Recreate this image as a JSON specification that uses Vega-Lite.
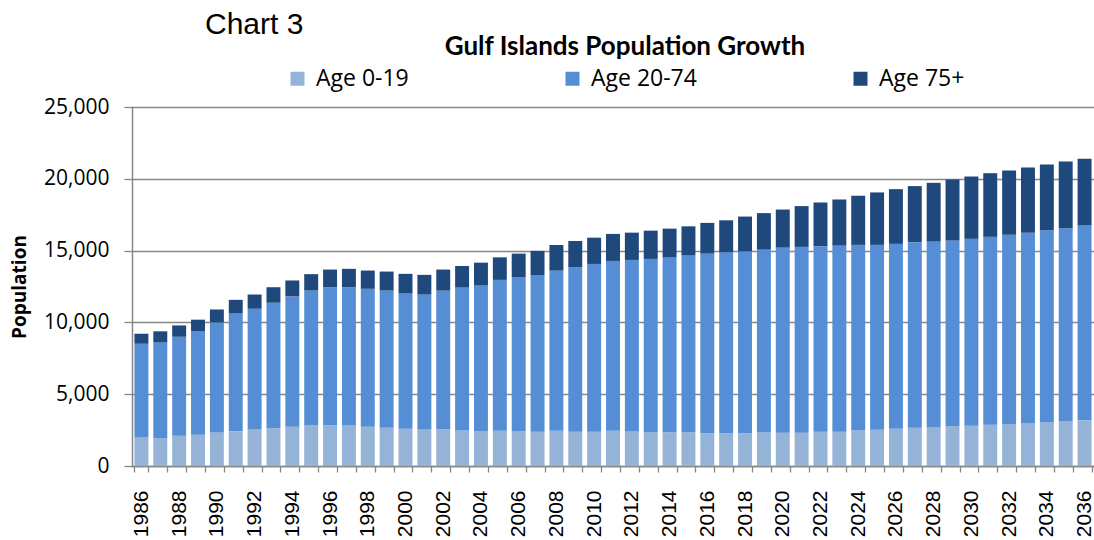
{
  "$schema": "https://vega.github.io/schema/vega-lite/v6.json",
  "width": 962,
  "height": 359,
  "autosize": {"type": "none"},
  "padding": {"left": 132, "top": 107, "right": 0, "bottom": 74},
  "background": "#ffffff",
  "title": {
    "text": "Chart 3",
    "anchor": "start",
    "frame": "group",
    "dx": 73,
    "dy": 8,
    "offset": 2,
    "font": "Liberation Sans",
    "fontSize": 30,
    "fontWeight": "normal",
    "color": "#000000"
  },
  "data": {
    "values": [
      {"year": 1986, "age": "Age 0-19", "population": 1990}, {"year": 1986, "age": "Age 20-74", "population": 6530}, {"year": 1986, "age": "Age 75+", "population": 690},
      {"year": 1987, "age": "Age 0-19", "population": 1940}, {"year": 1987, "age": "Age 20-74", "population": 6670}, {"year": 1987, "age": "Age 75+", "population": 770},
      {"year": 1988, "age": "Age 0-19", "population": 2110}, {"year": 1988, "age": "Age 20-74", "population": 6890}, {"year": 1988, "age": "Age 75+", "population": 790},
      {"year": 1989, "age": "Age 0-19", "population": 2180}, {"year": 1989, "age": "Age 20-74", "population": 7220}, {"year": 1989, "age": "Age 75+", "population": 790},
      {"year": 1990, "age": "Age 0-19", "population": 2340}, {"year": 1990, "age": "Age 20-74", "population": 7660}, {"year": 1990, "age": "Age 75+", "population": 900},
      {"year": 1991, "age": "Age 0-19", "population": 2430}, {"year": 1991, "age": "Age 20-74", "population": 8220}, {"year": 1991, "age": "Age 75+", "population": 920},
      {"year": 1992, "age": "Age 0-19", "population": 2550}, {"year": 1992, "age": "Age 20-74", "population": 8400}, {"year": 1992, "age": "Age 75+", "population": 990},
      {"year": 1993, "age": "Age 0-19", "population": 2640}, {"year": 1993, "age": "Age 20-74", "population": 8730}, {"year": 1993, "age": "Age 75+", "population": 1080},
      {"year": 1994, "age": "Age 0-19", "population": 2730}, {"year": 1994, "age": "Age 20-74", "population": 9080}, {"year": 1994, "age": "Age 75+", "population": 1110},
      {"year": 1995, "age": "Age 0-19", "population": 2820}, {"year": 1995, "age": "Age 20-74", "population": 9400}, {"year": 1995, "age": "Age 75+", "population": 1140},
      {"year": 1996, "age": "Age 0-19", "population": 2850}, {"year": 1996, "age": "Age 20-74", "population": 9600}, {"year": 1996, "age": "Age 75+", "population": 1230},
      {"year": 1997, "age": "Age 0-19", "population": 2820}, {"year": 1997, "age": "Age 20-74", "population": 9630}, {"year": 1997, "age": "Age 75+", "population": 1280},
      {"year": 1998, "age": "Age 0-19", "population": 2730}, {"year": 1998, "age": "Age 20-74", "population": 9610}, {"year": 1998, "age": "Age 75+", "population": 1270},
      {"year": 1999, "age": "Age 0-19", "population": 2660}, {"year": 1999, "age": "Age 20-74", "population": 9560}, {"year": 1999, "age": "Age 75+", "population": 1320},
      {"year": 2000, "age": "Age 0-19", "population": 2590}, {"year": 2000, "age": "Age 20-74", "population": 9450}, {"year": 2000, "age": "Age 75+", "population": 1340},
      {"year": 2001, "age": "Age 0-19", "population": 2550}, {"year": 2001, "age": "Age 20-74", "population": 9390}, {"year": 2001, "age": "Age 75+", "population": 1370},
      {"year": 2002, "age": "Age 0-19", "population": 2570}, {"year": 2002, "age": "Age 20-74", "population": 9640}, {"year": 2002, "age": "Age 75+", "population": 1470},
      {"year": 2003, "age": "Age 0-19", "population": 2480}, {"year": 2003, "age": "Age 20-74", "population": 9940}, {"year": 2003, "age": "Age 75+", "population": 1510},
      {"year": 2004, "age": "Age 0-19", "population": 2440}, {"year": 2004, "age": "Age 20-74", "population": 10120}, {"year": 2004, "age": "Age 75+", "population": 1600},
      {"year": 2005, "age": "Age 0-19", "population": 2460}, {"year": 2005, "age": "Age 20-74", "population": 10500}, {"year": 2005, "age": "Age 75+", "population": 1570},
      {"year": 2006, "age": "Age 0-19", "population": 2440}, {"year": 2006, "age": "Age 20-74", "population": 10700}, {"year": 2006, "age": "Age 75+", "population": 1650},
      {"year": 2007, "age": "Age 0-19", "population": 2390}, {"year": 2007, "age": "Age 20-74", "population": 10890}, {"year": 2007, "age": "Age 75+", "population": 1700},
      {"year": 2008, "age": "Age 0-19", "population": 2460}, {"year": 2008, "age": "Age 20-74", "population": 11150}, {"year": 2008, "age": "Age 75+", "population": 1780},
      {"year": 2009, "age": "Age 0-19", "population": 2390}, {"year": 2009, "age": "Age 20-74", "population": 11450}, {"year": 2009, "age": "Age 75+", "population": 1830},
      {"year": 2010, "age": "Age 0-19", "population": 2390}, {"year": 2010, "age": "Age 20-74", "population": 11680}, {"year": 2010, "age": "Age 75+", "population": 1830},
      {"year": 2011, "age": "Age 0-19", "population": 2460}, {"year": 2011, "age": "Age 20-74", "population": 11820}, {"year": 2011, "age": "Age 75+", "population": 1880},
      {"year": 2012, "age": "Age 0-19", "population": 2410}, {"year": 2012, "age": "Age 20-74", "population": 11940}, {"year": 2012, "age": "Age 75+", "population": 1900},
      {"year": 2013, "age": "Age 0-19", "population": 2370}, {"year": 2013, "age": "Age 20-74", "population": 12050}, {"year": 2013, "age": "Age 75+", "population": 1970},
      {"year": 2014, "age": "Age 0-19", "population": 2350}, {"year": 2014, "age": "Age 20-74", "population": 12160}, {"year": 2014, "age": "Age 75+", "population": 2020},
      {"year": 2015, "age": "Age 0-19", "population": 2350}, {"year": 2015, "age": "Age 20-74", "population": 12300}, {"year": 2015, "age": "Age 75+", "population": 2040},
      {"year": 2016, "age": "Age 0-19", "population": 2280}, {"year": 2016, "age": "Age 20-74", "population": 12510}, {"year": 2016, "age": "Age 75+", "population": 2140},
      {"year": 2017, "age": "Age 0-19", "population": 2280}, {"year": 2017, "age": "Age 20-74", "population": 12600}, {"year": 2017, "age": "Age 75+", "population": 2230},
      {"year": 2018, "age": "Age 0-19", "population": 2280}, {"year": 2018, "age": "Age 20-74", "population": 12670}, {"year": 2018, "age": "Age 75+", "population": 2420},
      {"year": 2019, "age": "Age 0-19", "population": 2330}, {"year": 2019, "age": "Age 20-74", "population": 12740}, {"year": 2019, "age": "Age 75+", "population": 2540},
      {"year": 2020, "age": "Age 0-19", "population": 2320}, {"year": 2020, "age": "Age 20-74", "population": 12890}, {"year": 2020, "age": "Age 75+", "population": 2650},
      {"year": 2021, "age": "Age 0-19", "population": 2320}, {"year": 2021, "age": "Age 20-74", "population": 12940}, {"year": 2021, "age": "Age 75+", "population": 2840},
      {"year": 2022, "age": "Age 0-19", "population": 2390}, {"year": 2022, "age": "Age 20-74", "population": 12920}, {"year": 2022, "age": "Age 75+", "population": 3040},
      {"year": 2023, "age": "Age 0-19", "population": 2390}, {"year": 2023, "age": "Age 20-74", "population": 12960}, {"year": 2023, "age": "Age 75+", "population": 3210},
      {"year": 2024, "age": "Age 0-19", "population": 2490}, {"year": 2024, "age": "Age 20-74", "population": 12910}, {"year": 2024, "age": "Age 75+", "population": 3420},
      {"year": 2025, "age": "Age 0-19", "population": 2530}, {"year": 2025, "age": "Age 20-74", "population": 12870}, {"year": 2025, "age": "Age 75+", "population": 3650},
      {"year": 2026, "age": "Age 0-19", "population": 2600}, {"year": 2026, "age": "Age 20-74", "population": 12870}, {"year": 2026, "age": "Age 75+", "population": 3810},
      {"year": 2027, "age": "Age 0-19", "population": 2670}, {"year": 2027, "age": "Age 20-74", "population": 12920}, {"year": 2027, "age": "Age 75+", "population": 3900},
      {"year": 2028, "age": "Age 0-19", "population": 2720}, {"year": 2028, "age": "Age 20-74", "population": 12910}, {"year": 2028, "age": "Age 75+", "population": 4090},
      {"year": 2029, "age": "Age 0-19", "population": 2790}, {"year": 2029, "age": "Age 20-74", "population": 12910}, {"year": 2029, "age": "Age 75+", "population": 4250},
      {"year": 2030, "age": "Age 0-19", "population": 2810}, {"year": 2030, "age": "Age 20-74", "population": 13010}, {"year": 2030, "age": "Age 75+", "population": 4340},
      {"year": 2031, "age": "Age 0-19", "population": 2880}, {"year": 2031, "age": "Age 20-74", "population": 13080}, {"year": 2031, "age": "Age 75+", "population": 4430},
      {"year": 2032, "age": "Age 0-19", "population": 2930}, {"year": 2032, "age": "Age 20-74", "population": 13170}, {"year": 2032, "age": "Age 75+", "population": 4480},
      {"year": 2033, "age": "Age 0-19", "population": 3000}, {"year": 2033, "age": "Age 20-74", "population": 13240}, {"year": 2033, "age": "Age 75+", "population": 4550},
      {"year": 2034, "age": "Age 0-19", "population": 3070}, {"year": 2034, "age": "Age 20-74", "population": 13350}, {"year": 2034, "age": "Age 75+", "population": 4580},
      {"year": 2035, "age": "Age 0-19", "population": 3140}, {"year": 2035, "age": "Age 20-74", "population": 13420}, {"year": 2035, "age": "Age 75+", "population": 4650},
      {"year": 2036, "age": "Age 0-19", "population": 3180}, {"year": 2036, "age": "Age 20-74", "population": 13570}, {"year": 2036, "age": "Age 75+", "population": 4640}
    ]
  },
  "mark": {"type": "bar"},
  "encoding": {
    "x": {
      "field": "year",
      "type": "ordinal",
      "scale": {"paddingInner": 0.26, "paddingOuter": 0.13},
      "axis": {
        "title": null,
        "labelAngle": 270,
        "labelExpr": "datum.value % 2 == 0 ? datum.label : ''",
        "labelFont": "Liberation Sans",
        "labelFontSize": 21,
        "labelColor": "#000000",
        "labelPadding": 18,
        "tickSize": 6,
        "tickColor": "#868686",
        "tickWidth": 1.3,
        "tickBand": "extent",
        "domainColor": "#868686",
        "domainWidth": 1.5,
        "labelOverlap": false,
        "grid": false
      }
    },
    "y": {
      "field": "population",
      "type": "quantitative",
      "stack": "zero",
      "scale": {"domain": [0, 25000], "nice": false},
      "axis": {
        "title": "Population",
        "titleFont": "Open Sans",
        "titleFontSize": 19,
        "titleFontWeight": "bold",
        "titleColor": "#000000",
        "titlePadding": 14,
        "values": [0, 5000, 10000, 15000, 20000, 25000],
        "format": ",.0f",
        "labelFont": "Open Sans",
        "labelFontSize": 21,
        "labelColor": "#000000",
        "labelPadding": 15,
        "tickSize": 8,
        "tickColor": "#868686",
        "tickWidth": 1.3,
        "domainColor": "#868686",
        "domainWidth": 1.5,
        "grid": true,
        "gridColor": "#868686",
        "gridWidth": 1.5
      }
    },
    "order": {"field": "age", "type": "nominal", "sort": "ascending"},
    "color": {
      "field": "age",
      "type": "nominal",
      "scale": {
        "domain": ["Age 0-19", "Age 20-74", "Age 75+"],
        "range": ["#95b3d7", "#558ed5", "#1f497d"]
      },
      "legend": {
        "orient": "none",
        "direction": "horizontal",
        "legendX": 154,
        "legendY": -73,
        "padding": 0,
        "title": "Gulf Islands Population Growth",
        "titleOrient": "top",
        "titleAnchor": "middle",
        "titleLimit": 800,
        "titleFont": "Lato",
        "titleFontSize": 26,
        "titleFontWeight": "bold",
        "titleColor": "#000000",
        "titlePadding": 7,
        "symbolType": "square",
        "symbolSize": 196,
        "symbolStrokeWidth": 0,
        "symbolOpacity": 1,
        "labelFont": "Open Sans",
        "labelFontSize": 23,
        "labelColor": "#000000",
        "labelOffset": 7,
        "columnPadding": 152,
        "labelLimit": 300
      }
    }
  },
  "config": {
    "view": {"stroke": null},
    "axis": {"domainCap": "square"}
  }
}
